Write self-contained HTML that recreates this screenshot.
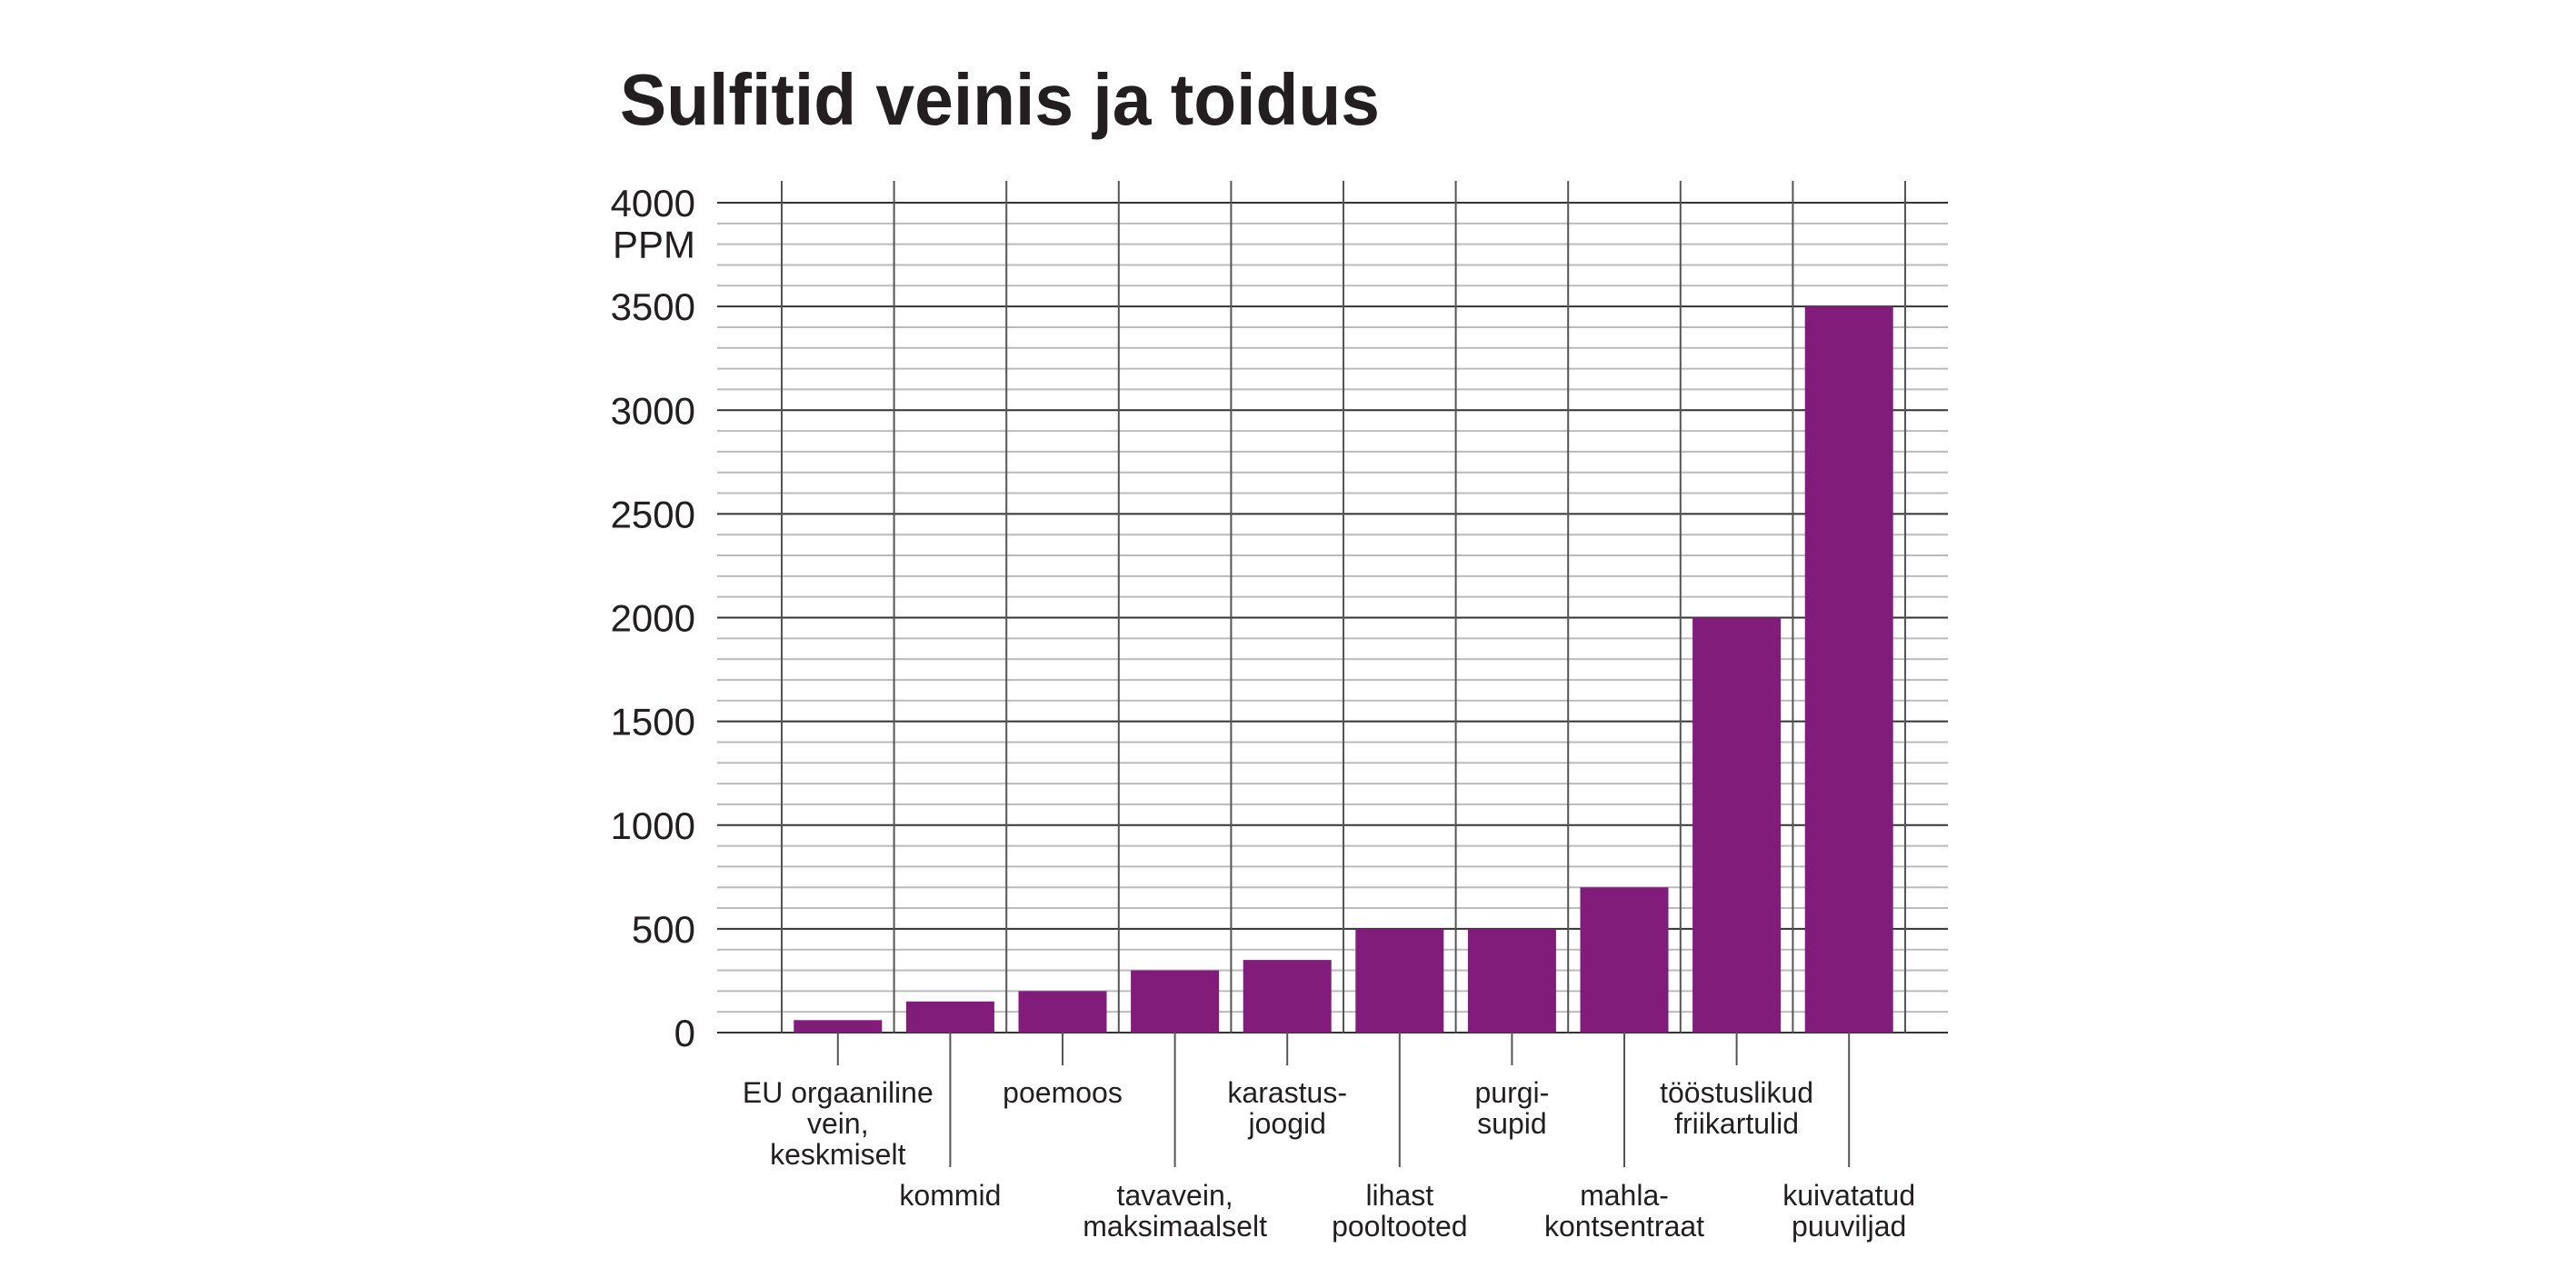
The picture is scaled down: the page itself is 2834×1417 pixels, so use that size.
<!DOCTYPE html>
<html><head><meta charset="utf-8"><style>
html,body{margin:0;padding:0;background:#fff}
svg{display:block}
text{font-family:"Liberation Sans",sans-serif;fill:#231f20}
</style></head><body>
<svg id="chart" width="2834" height="1417" viewBox="0 0 2834 1417" xmlns="http://www.w3.org/2000/svg">
<text x="682" y="137" font-size="80" font-weight="bold" textLength="836" lengthAdjust="spacingAndGlyphs">Sulfitid veinis ja toidus</text>
<g id="grid"></g>
<g id="bars"></g>
<g id="labels"></g>
<g id="yaxis"></g>
</svg>
<script>
const categories = [
  ["EU orgaaniline","vein,","keskmiselt"],
  ["kommid"],
  ["poemoos"],
  ["tavavein,","maksimaalselt"],
  ["karastus-","joogid"],
  ["lihast","pooltooted"],
  ["purgi-","supid"],
  ["mahla-","kontsentraat"],
  ["tööstuslikud","friikartulid"],
  ["kuivatatud","puuviljad"]
];
const values = [60,150,200,300,350,500,500,700,2000,3500];
const yTicks = [0,500,1000,1500,2000,2500,3000,3500,4000];
const yMax = 4000;

const NS = "http://www.w3.org/2000/svg";
const x0 = 860, step = 123.6, gridL = 789, gridR = 2143;
const yBase = 1136, yTop = 223, vTop = 199;
function y(v){ return yBase - (yBase - yTop) * v / yMax; }
function xc(i){ return x0 + step * (i + 0.5); }
function mk(tag, attrs, parent){
  const e = document.createElementNS(NS, tag);
  for (const k in attrs) e.setAttribute(k, attrs[k]);
  parent.appendChild(e);
  return e;
}
const grid = document.getElementById('grid');
for (let v = 0; v <= yMax; v += 100) {
  const major = v % 500 === 0;
  const l = mk('line', {x1: gridL, x2: gridR, y1: y(v), y2: y(v), stroke: major ? '#333' : '#bbb', 'stroke-width': major ? 2 : 2}, grid);
  
  
}
for (let k = 0; k <= categories.length; k++) {
  const l = mk('line', {x1: x0 + step * k, x2: x0 + step * k, y1: vTop, y2: yBase, stroke: '#555', 'stroke-width': 2}, grid);
  
  
}
const bars = document.getElementById('bars');
const bw = 97;
values.forEach((v, i) => {
  const r = mk('rect', {x: xc(i) - bw / 2, y: y(v), width: bw, height: yBase - y(v), fill: '#811c7b'}, bars);
  
  
});
const labels = document.getElementById('labels');
categories.forEach((lines, i) => {
  const even = i % 2 === 1;
  const t = mk('line', {x1: xc(i), x2: xc(i), y1: yBase, y2: even ? 1284 : 1172, stroke: '#555', 'stroke-width': 2}, labels);
  
  
  const base = even ? 1326 : 1213;
  lines.forEach((s, j) => {
    const tx = mk('text', {x: xc(i), y: base + j * 34, 'font-size': 32, 'text-anchor': 'middle'}, labels);
    tx.textContent = s;
    
    
  });
});
const yaxis = document.getElementById('yaxis');
yTicks.forEach(v => {
  const t = mk('text', {x: 765, y: y(v) + 15, 'font-size': 42, 'text-anchor': 'end'}, yaxis);
  t.textContent = v;
  
  
});
const u = mk('text', {x: 765, y: y(3800) + 15, 'font-size': 42, 'text-anchor': 'end'}, yaxis);
u.textContent = 'PPM';


</script>
</body></html>
